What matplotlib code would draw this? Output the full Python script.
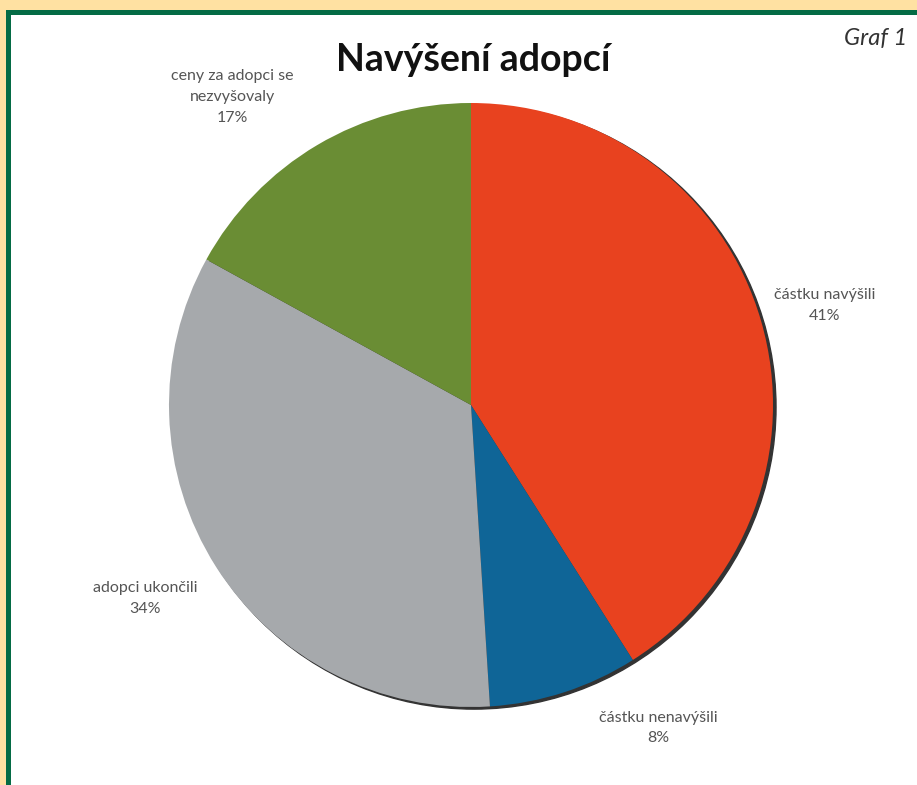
import matplotlib
matplotlib.use('Agg')
import matplotlib.pyplot as plt
from matplotlib.patches import Rectangle, Circle

# ------------------------------------------------------------
# DATA
# ------------------------------------------------------------
CATEGORIES = ["částku navýšili", "částku nenavýšili", "adopci ukončili",
              "ceny za adopci se\nnezvyšovaly"]
VALUES = [41, 8, 34, 17]
COLORS = ["#E8421F", "#0F6597", "#A6A9AC", "#6A8D34"]

TITLE = "Navýšení adopcí"
CORNER = "Graf 1"

# label anchor points (data coords, pie radius = 1)
LABEL_POS = [(1.17, 0.33), (0.62, -1.07), (-1.08, -0.64), (-0.79, 1.02)]

W, H, DPI = 917, 785, 100
CX, CY, R = 471, 405, 302      # pie centre / radius in pixels (from top-left)

plt.rcParams['font.family'] = ['Lato', 'DejaVu Sans']

fig = plt.figure(figsize=(W / DPI, H / DPI), dpi=DPI)
fig.patch.set_facecolor('white')

# frame: yellow outer band + green rule
bg = fig.add_axes([0, 0, 1, 1])
bg.set_xlim(0, W)
bg.set_ylim(H, 0)
bg.axis('off')
bg.add_patch(Rectangle((0, 0), W, 10, color='#FFE1A2', lw=0))
bg.add_patch(Rectangle((0, 0), 6, H, color='#FFE1A2', lw=0))
bg.add_patch(Rectangle((6, 10), W, 5, color='#046B45', lw=0))
bg.add_patch(Rectangle((6, 10), 5, H, color='#046B45', lw=0))

# pie
ax = fig.add_axes([(CX - R) / W, (H - CY - R) / H, 2 * R / W, 2 * R / H])
shadow = Circle((0.01, -0.007), 1.0, color='#333333', zorder=0, clip_on=False)
ax.add_patch(shadow)
wedges, _ = ax.pie(VALUES, colors=COLORS, startangle=90, counterclock=False,
                   wedgeprops={'linewidth': 0})
for w in wedges:
    w.set_zorder(2)
    w.set_clip_on(False)
ax.set_xlim(-1, 1)
ax.set_ylim(-1, 1)
ax.set_aspect('equal')
ax.axis('off')

for cat, val, (x, y) in zip(CATEGORIES, VALUES, LABEL_POS):
    ax.text(x, y, f"{cat}\n{val}%", ha='center', va='center', fontsize=11.5,
            color='#555555', linespacing=1.6, clip_on=False)

fig.text(473 / W, 1 - 60 / H, TITLE, ha='center', va='center',
         fontsize=27, fontweight='bold', color='#111111')
fig.text(907 / W, 1 - 38 / H, CORNER, ha='right', va='center',
         fontsize=17, style='italic', color='#333333',
         family=['Lato', 'DejaVu Sans'])

fig.savefig('out.png', dpi=DPI, facecolor='white')
plt.close(fig)
